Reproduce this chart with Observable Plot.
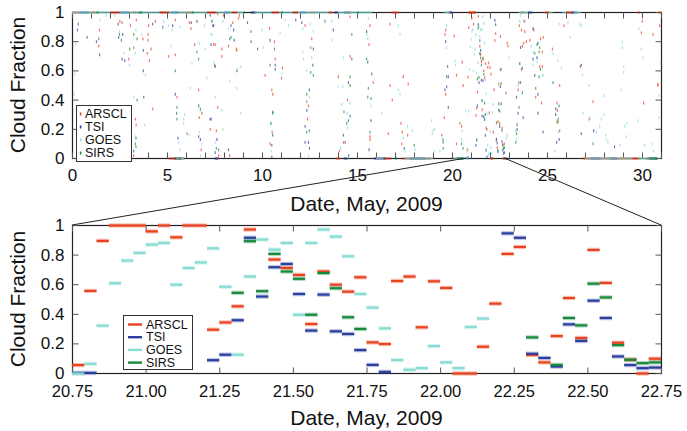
<!DOCTYPE html>
<html><head><meta charset="utf-8">
<script src="https://cdn.jsdelivr.net/npm/d3@7"></script>
<script src="https://cdn.jsdelivr.net/npm/@observablehq/plot@0.6"></script>
<style>
body{margin:0;background:#fff;}
#wrap{position:relative;width:687px;height:431px;overflow:hidden;}
#wrap > svg{display:block;}
#overlay{position:absolute;left:0;top:0;pointer-events:none;}
</style></head><body><div id="wrap"></div>
<script>
// ---------------- data ----------------
const series = ["ARSCL", "TSI", "GOES", "SIRS"];
const colors = ["#e8421f", "#2b3f9f", "#88dcd3", "#16893a"];

const topXTicks = [0,1,2,3,4,5,6,7,8,9,10,11,12,13,14,15,16,17,18,19,20,21,22,23,24,25,26,27,28,29,30,31];
const topXLabels = [0, 5, 10, 15, 20, 25, 30];
const yTicks = [0, 0.2, 0.4, 0.6, 0.8, 1];
const zoomTicks = [20.75, 21.0, 21.25, 21.5, 21.75, 22.0, 22.25, 22.5, 22.75];
const zoomStart = 20.75, zoomEnd = 22.75;

// hourly cloud fraction, 20.75 .. 22.75 (48 hours)
const arsclHourly = [0.057,0.558,0.896,1,1,1,0.96,1,0.92,1,
  1,0.296,0.345,0.454,0.973,null,0.77,0.713,0.666,0.334,
  0.689,0.60,0.553,0.65,0.21,0.199,0.625,0.655,0.312,0.623,
  0.578,0,0,0.181,0.472,0.808,0.855,0.125,0.075,0.253,
  0.51,0.24,0.835,0.612,0.208,0.093,0,0.1];
const tsiHourly = [0.004,0.004,null,null,null,null,null,null,null,null,
  null,0.09,0.127,0.36,0.917,0.52,0.718,0.74,0.537,0.29,
  0.533,0.285,0.267,0.158,0.058,0.011,null,null,null,null,
  null,null,null,null,null,0.947,0.917,0.133,0.105,0.047,
  0.332,0.22,0.492,0.375,0.115,0.057,0.036,0.04];
const goesHourly = [0,0.065,0.323,0.61,0.763,0.815,0.871,0.882,0.6,0.713,
  0.75,0.846,0.586,0.127,0.655,0.905,0.837,0.882,0.397,0.882,
  0.973,0.925,0.792,0.537,0.445,0.305,0.091,0.025,0.036,0.185,
  0.075,0.036,0.314,0.371,null,null,null,null,null,null,
  null,null,null,null,null,null,null,null];
const sirsHourly = [null,null,null,null,null,null,null,null,null,null,
  null,null,null,0.545,0.894,0.556,0.808,0.689,0.64,0.397,
  0.679,0.576,0.38,0.301,null,null,null,null,null,null,
  null,null,null,null,null,null,null,0.244,null,0.058,
  0.375,0.325,0.607,0.514,0.192,0.093,0.07,0.075];

// scattered values over the month (day, cloud fraction), outside the zoom window
const arsclPts = [[1.42,0.88],[1.38,0.77],[2.49,0.94],[2.61,0.93],[2.96,0.68],[3.05,0.91],[3.22,0.76],[3.36,0.95],[3.71,0.82],[3.98,0.85],[3.98,0.81],[3.94,0.72],[4.01,0.91],[4.13,0.75],[4.05,0.67],[4.36,0.94],[5.06,0.70],[5.41,0.71],[5.41,0.95],[6.15,0.93],[6.23,0.89],[6.43,0.78],[7.43,0.78],[7.48,0.64],
  [7.51,0.78],[7.64,0.99],[7.95,0.98],[7.86,0.75],[7.86,0.70],[8.21,0.77],[8.44,0.93],[8.62,0.75],[8.65,0.74],[8.74,0.96],[8.79,0.98],[10.14,0.57],[10.37,0.89],[10.63,0.80],[10.67,0.68],[11.05,0.62],[11.0,0.55],[12.24,0.91],[12.59,0.82],[12.54,0.76],[13.99,0.56],[14.61,0.70],[14.61,0.97],
  [15.61,0.78],[15.66,0.91],[16.71,0.92],[17.41,0.56],[19.64,0.88],[19.6,0.85],[20.09,0.84],[20.21,0.57],[20.51,0.66],
  [22.93,0.77],[22.88,0.79],[23.51,0.91],[23.63,0.88],[23.8,0.94],[23.8,0.87],[23.75,0.79],[23.68,0.77],[23.89,0.80],[24.07,0.81],[24.28,0.88],[24.63,0.82],[24.77,0.83],[24.73,0.73],[24.59,0.63],[24.73,0.63],[23.63,0.61],[23.49,0.52],[25.26,0.75],[25.87,0.91],[26.73,0.63],[29.99,0.94],[29.94,0.86],[30.55,0.85],[30.9,0.91],[30.81,0.51],
  [4.22,0.34],[3.31,0.27],[3.35,0.23],[3.22,0.02],[5.5,0.42],[6.03,0.17],[6.64,0.47],[6.81,0.31],[6.67,0.28],[6.78,0.06],[7.25,0.20],
  [7.64,0.35],[7.57,0.19],[7.69,0.02],[8.27,0.02],[10.49,0.47],[10.54,0.44],[10.51,0.18],[10.4,0.10],[12.33,0.39],[12.42,0.36],[12.37,0.27],[14.47,0.40],[14.26,0.11],[14.05,0.05],
  [15.83,0.52],[15.66,0.15],[15.66,0.13],[16.62,0.17],[16.83,0.40],[16.71,0.50],[17.29,0.24],[17.36,0.18],[17.32,0.10],[17.67,0.51],[17.64,0.16],[19.43,0.16],[19.64,0.44],[19.57,0.28],[20.21,0.10],[20.39,0.24],[20.48,0.22],[20.56,0.50],
  [22.81,0.45],[23.45,0.47],[24.38,0.42],[24.68,0.38],[25.64,0.50],[25.5,0.38],[25.52,0.33],[25.56,0.25],[25.64,0.19],[27.4,0.39],[27.19,0.27],[30.06,0.38],[30.81,0.50]];
const tsiPts = [[0.30,0.92],[0.26,0.88],[0.77,0.83],[1.26,0.80],[1.43,0.71],[2.40,0.92],[2.43,0.83],[2.64,0.85],[2.61,0.68],[2.75,0.67],[3.73,0.74],[3.73,0.60],[4.22,0.92],[4.75,0.90],[5.27,0.91],[6.25,0.93],[6.55,0.94],[7.25,0.98],[7.43,0.91],
  [7.39,0.91],[7.29,0.78],[7.51,0.63],[8.34,0.91],[8.48,0.88],[8.51,0.81],[8.65,0.60],[9.21,0.93],[9.40,0.80],[9.74,0.75],[10.40,0.81],[10.67,0.64],[10.67,0.61],[11.75,0.95],[12.07,0.93],[12.68,0.75],[12.65,0.64],[13.73,0.88],[14.7,0.68],
  [15.48,0.87],[15.54,0.66],[15.75,0.58],[19.64,0.80],[19.78,0.56],
  [23.58,0.76],[24.24,0.89],[24.5,0.79],[24.24,0.68],[24.45,0.69],[24.33,0.57],[23.54,0.65],[26.78,0.64],
  [3.75,0.42],[3.34,0.14],[3.22,0.05],[5.41,0.44],[5.55,0.14],[6.64,0.36],[6.64,0.15],[6.73,0.13],[7.25,0.27],
  [7.29,0.27],[7.6,0.13],[7.51,0.04],[8.21,0.06],[10.54,0.16],[10.49,0.09],[10.49,0.01],[12.47,0.47],[12.33,0.33],[12.24,0.22],[12.42,0.11],[12.24,0.11],[12.47,0.07],[14.61,0.29],[14.26,0.16],[14.35,0.11],[14.54,0.02],[14.52,0.52],
  [15.71,0.26],[15.61,0.06],[17.46,0.07],[19.6,0.47],[19.69,0.49],[19.78,0.35],
  [23.4,0.23],[23.4,0.20],[23.37,0.42],[23.45,0.31],[23.72,0.28],[24.5,0.44],[24.5,0.31],[24.77,0.18],[25.43,0.34],[25.43,0.30],[25.61,0.13],[25.48,0.11],[26.78,0.17],[27.43,0.19],[28.53,0.08]];
const goesPts = [[0.16,0.78],[0.12,0.58],[1.43,0.95],[1.77,0.98],[2.22,0.98],[2.47,0.87],[2.70,0.72],[3.0,0.64],[3.34,0.88],[3.31,0.72],[3.66,0.85],[3.84,0.57],[4.80,0.94],[5.06,0.91],[5.20,0.77],[5.24,0.88],[5.67,0.90],[6.29,0.65],[6.67,0.79],[6.95,0.91],[6.99,0.75],[7.34,0.85],[7.08,0.55],
  [7.34,0.94],[7.29,0.85],[7.46,0.66],[7.92,0.94],[8.21,0.89],[8.69,0.61],[8.86,0.63],[8.97,0.99],[9.97,0.88],[10.05,0.76],[10.93,0.86],[11.02,0.58],[11.19,0.95],[11.37,0.91],[12.12,0.89],[12.12,0.73],[12.16,0.68],[12.33,0.60],[12.51,0.92],[12.59,0.69],[12.68,0.87],[13.64,0.94],[13.64,0.81],[14.26,0.69],
  [15.54,0.82],[15.50,0.85],[15.57,0.96],[17.15,0.91],[17.24,0.85],[19.69,0.91],[19.69,0.76],[20.13,0.67],[20.16,0.64],
  [22.98,0.69],[23.58,0.98],[23.54,0.94],[23.72,0.94],[24.15,0.77],[24.24,0.73],[24.24,0.64],[24.45,0.66],[24.73,0.57],[24.77,0.57],[25.29,0.72],[25.56,0.67],[25.61,0.92],[25.73,0.62],[26.08,0.93],[26.2,0.83],[26.69,0.92],[26.78,0.91],[26.84,0.57],[28.94,0.80],[28.94,0.76],[29.01,0.63],[29.01,0.59],[29.81,0.89],[29.94,0.75],[30.02,0.69],[30.95,0.65],
  [0.07,0.44],[3.22,0.42],[3.8,0.23],[3.31,0.15],[5.85,0.24],[5.85,0.27],[5.9,0.30],[5.59,0.11],[5.67,0.06],[6.2,0.48],[6.15,0.16],[6.67,0.18],[6.81,0.10],[6.73,0.02],[6.73,0.33],
  [8.27,0.53],[7.51,0.42],[7.86,0.33],[7.92,0.20],[7.51,0.11],[8.65,0.48],[8.86,0.31],[10.46,0.24],[10.46,0.05],[12.47,0.42],[12.33,0.39],[12.42,0.02],[13.99,0.49],[14.22,0.49],[14.61,0.38],[14.17,0.37],[14.47,0.21],[14.12,0.07],[14.45,0.31],
  [15.71,0.36],[16.27,0.31],[17.24,0.44],[17.15,0.47],[17.41,0.14],[17.5,0.05],[17.64,0.22],[17.88,0.19],[18.02,0.06],[18.9,0.26],[19.07,0.20],[18.98,0.19],[18.93,0.17],[19.04,0.05],[19.34,0.05],[20.51,0.19],[20.48,0.13],[20.7,0.33],
  [22.84,0.14],[22.88,0.16],[23.33,0.19],[23.37,0.13],[23.45,0.50],[25.56,0.18],[25.38,0.05],[26.87,0.31],[27.19,0.50],[27.22,0.28],[27.57,0.18],[27.75,0.22],[27.83,0.27],[27.96,0.30],[27.96,0.43],[28.06,0.16],[28.1,0.13],[28.18,0.11],[28.8,0.09],[28.88,0.47],[29.06,0.22],[29.18,0.24],[29.15,0.15],[29.76,0.26],[30.11,0.09],[30.51,0.10],[30.58,0.05],[30.86,0.43],[30.86,0.28]];
const sirsPts = [[1.38,0.82],[2.47,0.85],[2.57,0.81],[3.01,0.75],[3.22,0.85],[3.40,0.82],[5.41,0.60],[6.55,0.73],[6.64,0.68],[7.34,0.94],
  [8.27,0.82],[8.34,0.83],[9.39,0.87],[10.40,0.64],[10.63,0.75],[12.54,0.59],[12.68,0.57],[13.29,0.94],[14.61,0.56],[14.7,0.85],
  [15.48,0.68],[19.74,0.63],[19.69,0.56],
  [24.45,0.78],[24.59,0.76],[24.56,0.73],[24.33,0.72],[24.63,0.61],[24.56,0.56],[23.68,0.62],
  [3.4,0.40],[3.31,0.10],[3.34,0.08],[5.5,0.35],[5.48,0.31],[5.5,0.27],[6.73,0.34],
  [7.57,0.07],[7.69,0.06],[10.54,0.32],[10.54,0.31],[10.44,0.24],[12.33,0.44],[12.33,0.18],[12.47,0.19],[14.61,0.50],[14.29,0.32],[14.52,0.26],[14.43,0.24],
  [15.57,0.48],[15.71,0.41],[15.54,0.42],[15.66,0.18],[17.99,0.09],[19.51,0.11],[19.51,0.07],[19.5,0.13],[20.48,0.10],[20.56,0.07],
  [23.37,0.17],[23.33,0.11],[23.5,0.35],[23.68,0.45],[23.58,0.52],[24.38,0.48],[25.29,0.52],[25.61,0.36],[25.56,0.27],[25.5,0.25],[27.4,0.10]];

// runs of overcast (fraction 1) and clear (fraction 0) hours, [start day, end day]
const arsclOvercast = [[0,0.4],[1.0,1.3],[2.0,2.5],[3.2,3.4],[4.6,5.1],[6.0,6.3],[7.1,7.6],[8.4,8.7],[10.5,10.9],[11.6,11.9],[12.6,12.8],[13.5,13.7],[14.5,14.7],[16.8,17.2],[19.9,20.0],[23.6,23.8],[24.9,25.1],[26.0,26.4],[29.8,29.9],[30.85,31]];
const tsiOvercast = [[0.4,0.9],[2.5,3.0],[5.2,5.6],[8.0,8.3],[9.4,9.7],[12.0,12.3],[13.8,14.0],[14.3,14.6],[19.8,20.0],[24.0,24.2],[26.3,26.6]];
const goesOvercast = [[0,2.0],[2.5,4.6],[5.1,7.1],[7.6,8.4],[8.7,9.0],[9.6,10.5],[10.9,11.6],[11.9,13.5],[14.0,15.8],[19.6,19.9],[23.5,24.0],[25.1,25.3],[25.8,26.0],[26.4,26.8]];
const sirsOvercast = [[1.3,1.4],[3.5,3.7],[6.3,6.4],[9.0,9.1],[11.0,11.1],[15.0,15.1],[24.2,24.25]];
const arsclClear = [[5.1,5.9],[7.6,7.7],[13.9,14.1],[16.0,16.8],[17.4,18.9],[26.9,29.9],[30.2,30.5]];
const tsiClear = [[5.4,5.8],[7.5,7.7],[14.3,14.5],[15.9,16.5],[17.8,18.6],[20.2,20.6],[22.75,22.9],[27.3,27.8],[28.3,28.7],[30.3,30.8]];
const goesClear = [[5.5,5.9],[16.0,16.4],[17.5,19.0],[20.1,20.6],[27.0,29.5],[29.8,30.7]];
const sirsClear = [[5.6,5.7],[17.0,17.1],[20.3,20.6],[30.4,30.8]];

// ---------------- build tables ----------------
const hourlyBySeries = [arsclHourly, tsiHourly, goesHourly, sirsHourly];
const ptsBySeries = [arsclPts, tsiPts, goesPts, sirsPts];
const overcastBySeries = [arsclOvercast, tsiOvercast, goesOvercast, sirsOvercast];
const clearBySeries = [arsclClear, tsiClear, goesClear, sirsClear];

const zoomDashes = [];
series.forEach((s, k) => hourlyBySeries[k].forEach((v, i) => {
  if (v == null) return;
  zoomDashes.push({series: s, x1: zoomStart + i / 24, x2: zoomStart + (i + 1) / 24, y: v});
}));
const topPoints = [];
series.forEach((s, k) => ptsBySeries[k].forEach(([x, y]) => topPoints.push({series: s, x, y})));
zoomDashes.forEach(d => topPoints.push({series: d.series, x: (d.x1 + d.x2) / 2, y: d.y}));
const bandRuns = [];
series.forEach((s, k) => {
  overcastBySeries[k].forEach(([a, b]) => bandRuns.push({series: s, x1: a, x2: b, y: 1}));
  clearBySeries[k].forEach(([a, b]) => bandRuns.push({series: s, x1: a, x2: b, y: 0}));
});
zoomDashes.filter(d => d.y === 0 || d.y === 1).forEach(d => bandRuns.push(d));

// ---------------- helpers ----------------
const FONT = "'Liberation Sans', Arial, Helvetica, sans-serif";
const vbar = {draw(c) { c.rect(-0.6, -1.4, 1.2, 2.8); }};
const TL = 6;
const tickUp = {draw(c) { c.moveTo(0, 0); c.lineTo(0, -TL); }};
const tickDown = {draw(c) { c.moveTo(0, 0); c.lineTo(0, TL); }};
const tickRight = {draw(c) { c.moveTo(0, 0); c.lineTo(TL, 0); }};
const tickLeft = {draw(c) { c.moveTo(0, 0); c.lineTo(-TL, 0); }};
function frameTicks(xt, yt) {
  const st = {stroke: "#555", strokeWidth: 1, fill: "none"};
  return [
    Plot.dot(xt, {x: d => d, frameAnchor: "bottom", symbol: tickUp, ...st}),
    Plot.dot(xt, {x: d => d, frameAnchor: "top", symbol: tickDown, ...st}),
    Plot.dot(yt, {y: d => d, frameAnchor: "left", symbol: tickRight, ...st}),
    Plot.dot(yt, {y: d => d, frameAnchor: "right", symbol: tickLeft, ...st})
  ];
}
const common = {
  width: 687, marginLeft: 72, marginRight: 26,
  style: {fontFamily: FONT, fontSize: "17px", background: "white", color: "#111", overflow: "visible"},
  y: {domain: [0, 1]},
  color: {domain: series, range: colors}
};

const topChart = Plot.plot({
  ...common, height: 215, marginTop: 12, marginBottom: 57,
  x: {domain: [0, 31]},
  marks: [
    Plot.frame({stroke: "#222", strokeWidth: 1.2}),
    ...frameTicks(topXTicks, yTicks),
    Plot.ruleY(bandRuns, {x1: "x1", x2: "x2", y: "y", stroke: "series", strokeWidth: 2.6, strokeOpacity: 0.6}),
    Plot.dot(topPoints, {x: "x", y: "y", fill: "series", symbol: vbar, fillOpacity: 0.7}),
    Plot.axisX({anchor: "bottom", ticks: topXLabels, tickSize: 0, tickPadding: 10, label: null, fontSize: 17}),
    Plot.axisY({anchor: "left", ticks: yTicks, tickSize: 0, tickPadding: 8, tickFormat: d => String(d), label: null, fontSize: 17})
  ]
});

const botChart = Plot.plot({
  ...common, height: 216, marginTop: 10, marginBottom: 58,
  x: {domain: [zoomStart, zoomEnd]},
  marks: [
    Plot.frame({stroke: "#222", strokeWidth: 1.2}),
    ...frameTicks(zoomTicks, yTicks),
    Plot.ruleY(zoomDashes, {x1: "x1", x2: "x2", y: "y", stroke: "series", strokeWidth: 4.5, strokeOpacity: 0.3}),
    Plot.ruleY(zoomDashes, {x1: "x1", x2: "x2", y: "y", stroke: "series", strokeWidth: 2.2}),
    Plot.axisX({anchor: "bottom", ticks: zoomTicks, tickSize: 0, tickPadding: 11.5, tickFormat: d => d.toFixed(2), label: null, fontSize: 16.5}),
    Plot.axisY({anchor: "left", ticks: yTicks, tickSize: 0, tickPadding: 8, tickFormat: d => String(d), label: null, fontSize: 17})
  ]
});

const wrap = document.getElementById("wrap");
wrap.appendChild(topChart);
wrap.appendChild(botChart);

// ---------------- overlay: zoom connectors, titles, legends ----------------
const topH = 215;
const tx = topChart.scale("x"), ty = topChart.scale("y");
const bx = botChart.scale("x"), by = botChart.scale("y");
const ov = d3.select(wrap).append("svg").attr("id", "overlay").attr("width", 687).attr("height", 431)
  .attr("font-family", FONT);

ov.append("line").attr("x1", tx.apply(zoomStart)).attr("y1", ty.apply(0))
  .attr("x2", bx.apply(zoomStart)).attr("y2", topH + by.apply(1)).attr("stroke", "#222").attr("stroke-width", 1);
ov.append("line").attr("x1", tx.apply(zoomEnd)).attr("y1", ty.apply(0))
  .attr("x2", bx.apply(zoomEnd)).attr("y2", topH + by.apply(1)).attr("stroke", "#222").attr("stroke-width", 1);

const midX = (tx.apply(0) + tx.apply(31)) / 2;
function titles(yMid, yBase) {
  ov.append("text").attr("transform", `translate(17,${yMid}) rotate(-90)`).attr("text-anchor", "middle")
    .attr("dominant-baseline", "central").attr("font-size", 21).attr("fill", "#111").text("Cloud Fraction");
  ov.append("text").attr("x", midX).attr("y", yBase).attr("text-anchor", "middle")
    .attr("font-size", 21).attr("fill", "#111").text("Date, May, 2009");
}
titles((ty.apply(0) + ty.apply(1)) / 2, 211);
titles(topH + (by.apply(0) + by.apply(1)) / 2, 425);

// top legend (dot markers)
const lg1 = ov.append("g");
lg1.append("rect").attr("x", 76.5).attr("y", 105.5).attr("width", 55).attr("height", 56)
  .attr("fill", "white").attr("stroke", "#333");
series.forEach((s, i) => {
  const y = 114 + i * 13;
  lg1.append("rect").attr("x", 79.8).attr("y", y - 1.5).attr("width", 1.6).attr("height", 3).attr("fill", colors[i]);
  lg1.append("text").attr("x", 85).attr("y", y).attr("dominant-baseline", "central")
    .attr("font-size", 12.5).attr("fill", "#111").text(s);
});
// bottom legend (line markers)
const lg2 = ov.append("g");
lg2.append("rect").attr("x", 123.5).attr("y", 315.5).attr("width", 69).attr("height", 54)
  .attr("fill", "white").attr("stroke", "#333");
series.forEach((s, i) => {
  const y = 324.5 + i * 12.7;
  lg2.append("line").attr("x1", 128).attr("x2", 142).attr("y1", y).attr("y2", y)
    .attr("stroke", colors[i]).attr("stroke-width", 2.4);
  lg2.append("text").attr("x", 146).attr("y", y).attr("dominant-baseline", "central")
    .attr("font-size", 12.5).attr("fill", "#111").text(s);
});
</script></body></html>
